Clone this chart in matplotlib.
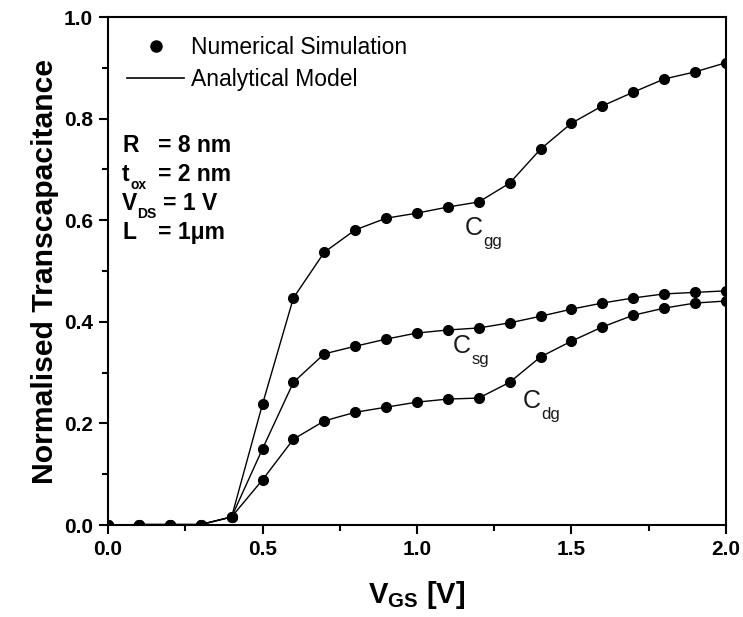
import numpy as np
import matplotlib
matplotlib.use("Agg")
import matplotlib.pyplot as plt
from matplotlib.lines import Line2D

plt.rcParams['font.family'] = ['Liberation Sans', 'DejaVu Sans']
plt.rcParams['mathtext.fontset'] = 'custom'
plt.rcParams['mathtext.rm'] = 'Liberation Sans'
plt.rcParams['mathtext.it'] = 'Liberation Sans'
plt.rcParams['mathtext.bf'] = 'Liberation Sans:bold'

# Gate voltage (V)
vgs = [0.0, 0.1, 0.2, 0.3, 0.4, 0.5, 0.6, 0.7, 0.8, 0.9, 1.0,
       1.1, 1.2, 1.3, 1.4, 1.5, 1.6, 1.7, 1.8, 1.9, 2.0]

# Normalised transcapacitances
c_gg = [0.0, 0.001, 0.001, 0.001, 0.016, 0.238, 0.447, 0.537, 0.581, 0.604, 0.614,
        0.626, 0.636, 0.673, 0.740, 0.791, 0.825, 0.852, 0.878, 0.892, 0.910]
c_sg = [0.0, 0.001, 0.001, 0.001, 0.016, 0.150, 0.281, 0.337, 0.352, 0.366, 0.378,
        0.384, 0.388, 0.398, 0.411, 0.425, 0.437, 0.447, 0.455, 0.458, 0.461]
c_dg = [0.0, 0.001, 0.001, 0.001, 0.016, 0.089, 0.169, 0.205, 0.222, 0.232, 0.242,
        0.248, 0.250, 0.281, 0.331, 0.362, 0.390, 0.413, 0.427, 0.437, 0.441]

curve_labels = [('C', 'gg', 1.155, 0.571),
                ('C', 'sg', 1.117, 0.339),
                ('C', 'dg', 1.343, 0.230)]

# device parameters (symbol, subscript, value)
params = [('R', '', '= 8 nm'),
          ('t', 'ox', '= 2 nm'),
          ('V', 'DS', '= 1 V'),
          ('L', '', '= 1\u03bcm')]

fig = plt.figure(figsize=(7.43, 6.17), dpi=100)
ax = fig.add_axes([0.1454, 0.149, 0.8316, 0.8234])

for c in (c_gg, c_sg, c_dg):
    ax.plot(vgs, c, '-', color='black', lw=1.0)
    ax.plot(vgs, c, 'o', color='black', ms=7, ls='none')


def sub_label(main, sub, x, y, size, subsize, dx, dy, trans, weight='normal', color='black'):
    ax.text(x, y, main, transform=trans, fontsize=size, fontweight=weight,
            color=color, va='baseline', ha='left')
    if sub:
        ax.annotate(sub, (x, y), xycoords=trans, xytext=(dx, dy),
                    textcoords='offset points', fontsize=subsize,
                    fontweight=weight, color=color, va='baseline', ha='left')


for main, sub, x, y in curve_labels:
    sub_label(main, sub, x, y, 18, 12, 13, -8, ax.transData, color='#1a1a1a')

rows_y = [0.734, 0.677, 0.620, 0.563]
for (sym, sub, val), y in zip(params, rows_y):
    sub_label(sym, sub, 0.023, y, 16.5, 10, 11 if sym == 'V' else 6, -6,
              ax.transAxes, weight='bold')
    xv = 0.089 if sym == 'V' else 0.081
    ax.text(xv, y, val, transform=ax.transAxes, fontsize=16.5,
            fontweight='bold', va='baseline')

handles = [Line2D([], [], marker='o', color='black', ls='none', ms=8),
           Line2D([], [], color='black', lw=1.2)]
ax.legend(handles, ['Numerical Simulation', 'Analytical Model'],
          loc='upper left', bbox_to_anchor=(0.031, 0.963), frameon=False,
          fontsize=16.5, handlelength=2.5, handletextpad=0.3, labelspacing=0.42,
          borderaxespad=0.0, borderpad=0.0)

ax.set_xlim(0, 2.0)
ax.set_ylim(0, 1.0)
ax.set_xticks(np.arange(0, 2.01, 0.5))
ax.set_xticks(np.arange(0.25, 2.0, 0.5), minor=True)
ax.set_yticks(np.arange(0, 1.01, 0.2))
ax.set_yticks(np.arange(0.1, 1.0, 0.2), minor=True)
ax.tick_params(which='both', direction='out', top=False, right=False,
               width=1.5, labelsize=15, pad=4.5)
ax.tick_params(which='major', length=6.5)
ax.tick_params(which='minor', length=4)
for lbl in ax.get_xticklabels() + ax.get_yticklabels():
    lbl.set_fontweight('bold')
for sp in ax.spines.values():
    sp.set_linewidth(1.5)

ax.set_xlabel(r'$\mathbf{V_{GS}}$ [V]', fontsize=21, fontweight='bold', labelpad=14)
ax.set_ylabel('Normalised Transcapacitance', fontsize=21.7, fontweight='bold', labelpad=3)

fig.savefig('out.png', dpi=100)
